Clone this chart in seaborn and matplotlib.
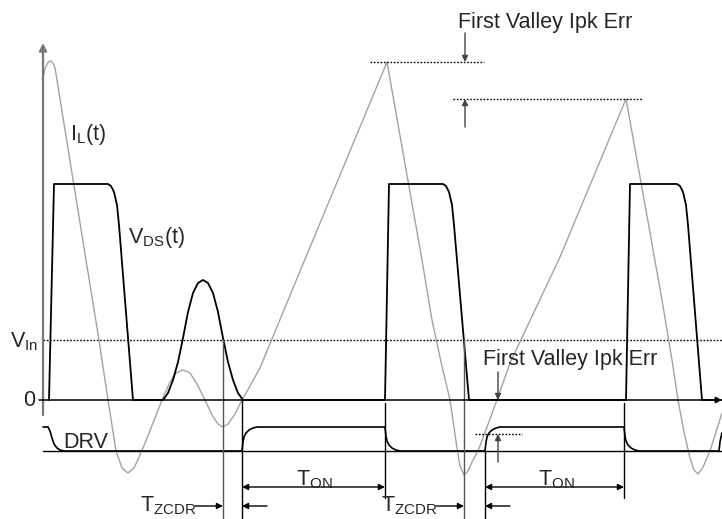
import matplotlib
matplotlib.use("Agg")
import matplotlib.pyplot as plt
import seaborn as sns

# time axis in arbitrary units (0 = vertical axis), level 0 = zero line
V_IN = 60
DRV_LOW = -51
DRV_HIGH = -27

# inductor current I_L(t), grey trace
il_t = [0, 2, 4, 6, 8, 10, 12, 14, 22, 43, 56, 65, 73, 79, 85, 91, 97, 104, 112,
        119, 127, 133, 140, 147, 154, 162, 169, 175, 180, 185, 192, 199, 207, 217,
        260, 344, 347, 379, 389, 398, 407, 414, 417, 421, 425, 430, 435, 444, 454,
        467, 517, 583, 594, 619, 624, 629, 635, 641, 647, 651, 655, 660, 667, 673, 679]
il_v = [322, 331, 336, 338.5, 339, 337, 332, 320, 270, 140, 60, 0, -51, -68, -73, -68,
        -55, -38, -18, 0, 18, 27, 30, 27, 16, 0, -15, -24, -27, -24, -14, 0, 14, 32,
        136, 338, 321, 140, 80, 38, 0, -48, -66, -75, -71, -60, -51, -27, 0,
        37, 143, 301, 240, 100, 70, 40, 0, -32, -58, -70, -74, -67, -51, -32, -13]

# drain-source voltage V_DS(t), black trace
vds_t = [6, 11, 65, 68, 71, 74, 76, 90, 120, 125, 130, 135, 140, 145, 150, 155, 160,
         165, 170, 175, 180, 185, 190, 195, 200, 342, 346, 400, 403, 406, 409, 411,
         426, 583, 587, 634, 637, 640, 643, 645, 659, 679]
vds_v = [0, 216, 216, 214, 208, 195, 175, 0, 0, 7, 20, 38, 62, 88, 107, 117, 120,
         117, 107, 88, 62, 38, 20, 7, 0, 0, 216, 216, 214, 208, 195, 175,
         0, 0, 216, 216, 214, 208, 195, 175, 0, 0]

# gate drive DRV
drv_t = [0, 5, 7, 9, 11, 14, 17, 21, 199, 200, 201, 203, 206, 210, 214, 342, 343,
         344, 346, 349, 353, 357, 442, 443, 444, 446, 449, 453, 457, 581, 582, 583,
         585, 588, 592, 596, 676, 677, 678, 679]
drv_v = [-27, -27, -31, -38, -44, -48, -50, -51, -51, -42, -37, -33, -30, -28, -27,
         -27, -36, -41, -45, -48, -50, -51, -51, -42, -37, -33, -30, -28, -27,
         -27, -36, -41, -45, -48, -50, -51, -51, -42, -37, -33]

# timing markers
t_zc = [180, 421]        # V_DS crosses V_In
t_on_start = [199, 442]  # DRV turns on
t_on_end = [342, 581]    # DRV turns off
ipk_peaks = [338, 301]   # successive I_L peaks

sns.set_style("white")
plt.rcParams["font.family"] = ["Liberation Sans", "DejaVu Sans"]
plt.rcParams["mathtext.fontset"] = "custom"
plt.rcParams["mathtext.rm"] = "Liberation Sans"
plt.rcParams["mathtext.it"] = "Liberation Sans:italic"

fig = plt.figure(figsize=(7.22, 5.19), dpi=100)
ax = fig.add_axes([0, 0, 1, 1])
ax.set_xlim(-43, 679)
ax.set_ylim(-119, 400)
ax.axis("off")

FS = 15.5
dot = (0, (1.2, 1.2))

# axes, reference lines
ax.annotate("", xy=(0, 357), xytext=(0, -15),
            arrowprops=dict(arrowstyle="-|>", color="#777777", lw=1.6,
                            shrinkA=0, shrinkB=0, mutation_scale=11))
ax.annotate("", xy=(679, 0), xytext=(-4, 0),
            arrowprops=dict(arrowstyle="-|>", color="black", lw=1.1,
                            shrinkA=0, shrinkB=0, mutation_scale=9))
ax.plot([0, 679], [V_IN, V_IN], color="black", lw=1.0, ls=dot)
ax.plot([0, 679], [DRV_LOW, DRV_LOW], color="black", lw=1.0)

# waveforms
sns.lineplot(x=il_t, y=il_v, sort=False, estimator=None, color="#a3a3a3", lw=1.0, ax=ax)
sns.lineplot(x=vds_t, y=vds_v, sort=False, estimator=None, color="black", lw=1.3, ax=ax)
sns.lineplot(x=drv_t, y=drv_v, sort=False, estimator=None, color="black", lw=1.2, ax=ax)

# vertical marker lines
for t in t_zc:
    ax.plot([t, t], [V_IN, -119], color="#555555", lw=1.0)
for t in t_on_start:
    ax.plot([t, t], [0 if t < 300 else DRV_LOW, -119], color="black", lw=1.0)
for t in t_on_end:
    ax.plot([t, t], [-3, -98], color="black", lw=1.0)


def arrow(x0, y0, x1, y1, style="-|>", color="black"):
    ax.annotate("", xy=(x1, y1), xytext=(x0, y0),
                arrowprops=dict(arrowstyle=style, color=color, lw=1.0,
                                shrinkA=0, shrinkB=0, mutation_scale=9))


# T_ON and T_ZCDR dimension arrows
for i in range(2):
    arrow(t_on_start[i], -87, t_on_end[i], -87, style="<|-|>")
    ax.text((t_on_start[i] + t_on_end[i]) / 2 - 17, -85, r"$\mathrm{T_{ON}}$",
            fontsize=FS, ha="left", va="baseline")
    arrow(t_zc[i] - 28, -106, t_zc[i], -106)
    arrow(t_on_start[i] + 25, -106, t_on_start[i], -106)
    ax.text(t_zc[i] - 83, -111, r"$\mathrm{T_{ZCDR}}$", fontsize=FS,
            ha="left", va="baseline")

# first valley Ipk error (top)
ax.plot([327, 441], [ipk_peaks[0]] * 2, color="black", lw=1.0, ls=dot)
ax.plot([410, 600], [ipk_peaks[1]] * 2, color="black", lw=1.0, ls=dot)
arrow(422, 367, 422, ipk_peaks[0], color="#444444")
arrow(422, 273, 422, ipk_peaks[1], color="#444444")
ax.text(415, 372, "First Valley Ipk Err", fontsize=FS, ha="left", va="baseline")

# first valley Ipk error (DRV threshold)
ax.plot([432, 479], [-34, -34], color="black", lw=1.0, ls=dot)
arrow(455, 28, 455, 0, color="#444444")
arrow(455, -62, 455, -34, color="#444444")
ax.text(440, 35, "First Valley Ipk Err", fontsize=FS, ha="left", va="baseline")

# trace labels
ax.text(27, 260, r"$\mathrm{I_L(t)}$", fontsize=FS, ha="left", va="baseline")
ax.text(85, 157, r"$\mathrm{V_{DS}(t)}$", fontsize=FS, ha="left", va="baseline")
ax.text(-33, 53, r"$\mathrm{V_{In}}$", fontsize=FS, ha="left", va="baseline")
ax.text(-8, 0, "0", fontsize=FS, ha="right", va="center")
ax.text(20, -48, "DRV", fontsize=FS, ha="left", va="baseline")

fig.savefig("out.png", dpi=100)
